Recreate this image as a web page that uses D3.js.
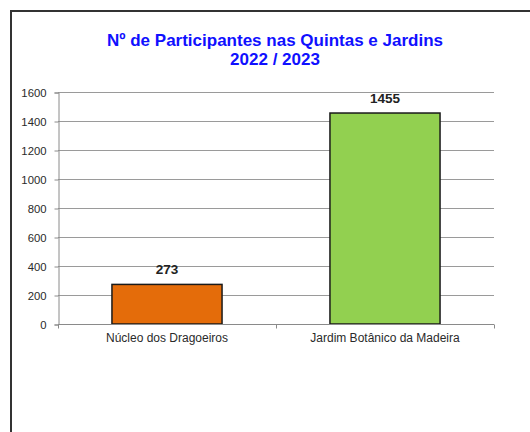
<!DOCTYPE html>
<html><head><meta charset="utf-8">
<script src="https://cdn.jsdelivr.net/npm/d3@7"></script>
<style>html,body{margin:0;padding:0;background:#fff;}</style>
</head><body>
<script>
const categories = ["Núcleo dos Dragoeiros", "Jardim Botânico da Madeira"];
const values = [273, 1455];
const colors = ["#E46C0A", "#92D050"];
const yTicks = [0, 200, 400, 600, 800, 1000, 1200, 1400, 1600];
const titleLines = ["Nº de Participantes nas Quintas e Jardins", "2022 / 2023"];

const W = 530, H = 432;
const svg = d3.select("body").append("svg").attr("width", W).attr("height", H);
svg.append("rect").attr("width", W).attr("height", H).attr("fill", "#fff");
// frame
svg.append("path").attr("d", `M11,${H+5}V11H${W+5}`).attr("fill", "none")
  .attr("stroke", "#333").attr("stroke-width", 2);

const x0 = 58, x1 = 494, yTop = 92, yBot = 324;
const x = d3.scaleBand().domain(categories).range([x0, x1]).paddingInner(0.495).paddingOuter(0.2475);
const y = d3.scaleLinear().domain([0, 1600]).range([yBot, yTop]);

// gridlines
svg.append("g").selectAll("line").data(yTicks.filter(d => d > 0)).join("line")
  .attr("x1", x0).attr("x2", x1).attr("y1", d => y(d) + 0.5).attr("y2", d => y(d) + 0.5)
  .attr("stroke", "#9a9a9a").attr("stroke-width", 1);

// y axis
const yAxis = svg.append("g").attr("transform", `translate(${x0 + 0.5},0.5)`)
  .call(d3.axisLeft(y).tickValues(yTicks).tickSize(4).tickPadding(8).tickFormat(d3.format("d")));
yAxis.select(".domain").attr("stroke", "#8a8a8a");
yAxis.selectAll(".tick line").attr("stroke", "#8a8a8a");
yAxis.selectAll("text").attr("font-family", "'Liberation Sans', Arial, sans-serif")
  .attr("font-size", 11.3).attr("fill", "#2a2a2a");

// bars
svg.append("g").selectAll("rect").data(values).join("rect")
  .attr("x", (d, i) => x(categories[i]))
  .attr("width", x.bandwidth())
  .attr("y", d => y(d))
  .attr("height", d => y(0) - y(d))
  .attr("fill", (d, i) => colors[i])
  .attr("stroke", "#1a1a1a").attr("stroke-width", 1.5);

// x axis
const xAxis = svg.append("g").attr("transform", `translate(0,${yBot + 0.5})`);
xAxis.append("line").attr("x1", x0).attr("x2", x1).attr("stroke", "#8a8a8a");
const bounds = [x0, (x0 + x1) / 2, x1];
xAxis.selectAll("line.t").data(bounds).join("line").attr("class", "t")
  .attr("x1", d => Math.round(d) + 0.5).attr("x2", d => Math.round(d) + 0.5)
  .attr("y1", 0).attr("y2", 4).attr("stroke", "#8a8a8a");
svg.append("g").selectAll("text").data(categories).join("text")
  .attr("x", d => x(d) + x.bandwidth() / 2).attr("y", 342)
  .attr("text-anchor", "middle")
  .attr("font-family", "'Liberation Sans', Arial, sans-serif").attr("font-size", 12)
  .attr("fill", "#2a2a2a").text(d => d);

// value labels
svg.append("g").selectAll("text").data(values).join("text")
  .attr("x", (d, i) => x(categories[i]) + x.bandwidth() / 2)
  .attr("y", d => y(d) - 10)
  .attr("text-anchor", "middle")
  .attr("font-family", "'Liberation Sans', Arial, sans-serif").attr("font-size", 13.5)
  .attr("font-weight", "bold").attr("fill", "#222").text(d => d);

// title
svg.append("g").selectAll("text").data(titleLines).join("text")
  .attr("x", 275).attr("y", (d, i) => 46 + i * 19)
  .attr("text-anchor", "middle")
  .attr("font-family", "'Liberation Sans', Arial, sans-serif").attr("font-size", 17)
  .attr("font-weight", "bold").attr("fill", "#1010FF").text(d => d);
</script>
</body></html>
